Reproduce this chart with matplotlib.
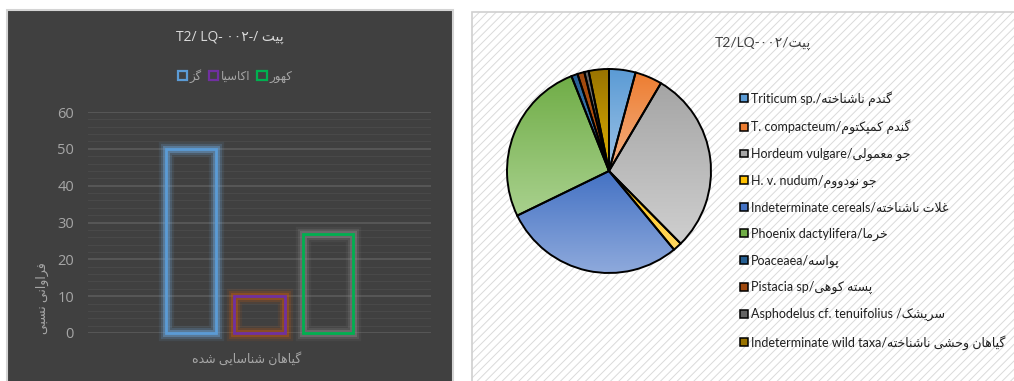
import numpy as np
import matplotlib
matplotlib.use("Agg")
import matplotlib.pyplot as plt
from matplotlib.patches import Rectangle
import matplotlib.patheffects as pe
from matplotlib.colors import LinearSegmentedColormap

# ---------------- data ----------------
bar_series = ["گز", "اکاسیا", "کهور"]
bar_values = [50, 10, 27]
bar_edge_colors = ["#5b9bd5", "#7030a0", "#00b050"]
bar_glow_colors = ["#6fa8dc", "#c55a11", "#8c8c8c"]
y_ticks = [0, 10, 20, 30, 40, 50, 60]

pie_latin = ["Triticum sp.", "T. compacteum", "Hordeum vulgare", "H. v. nudum",
             "Indeterminate cereals", "Phoenix dactylifera", "Poaceaea",
             "Pistacia sp", "Asphodelus cf. tenuifolius ", "Indeterminate wild taxa"]
pie_persian = ["گندم ناشناخته", "گندم کمپکتوم", "جو معمولی", "جو نودووم",
               "غلات ناشناخته", "خرما", "پواسه", "پسته کوهی", "سریشک",
               "گیاهان وحشی ناشناخته"]
pie_values = [4.2, 4.3, 29.1, 1.4, 28.8, 26.2, 1.0, 1.1, 0.7, 3.2]
pie_top_colors = ["#5b9bd5", "#ed7d31", "#a5a5a5", "#ffc000", "#4472c4",
                  "#70ad47", "#255e91", "#9e480e", "#636363", "#997300"]
pie_bottom_colors = ["#9dc3e6", "#f4b183", "#cfcfcf", "#ffd966", "#8faadc",
                     "#a9d18e", "#5b9bd5", "#c55a11", "#8c8c8c", "#e0b000"]

bar_title = "T2/ LQ- ۰۰۲-/ "
pie_title = "T2/LQ-۰۰۲/"
site_word = "پیت"
y_label = "فراوانی نسبی"
x_label = "گیاهان شناسایی شده"

# ------------- minimal Persian shaping (presentation forms, visual order) -------------
_FORMS = {
    "\u0627": (0xFE8D, 0xFE8E, None, None),
    "\u0628": (0xFE8F, 0xFE90, 0xFE91, 0xFE92),
    "\u067E": (0xFB56, 0xFB57, 0xFB58, 0xFB59),
    "\u062A": (0xFE95, 0xFE96, 0xFE97, 0xFE98),
    "\u062C": (0xFE9D, 0xFE9E, 0xFE9F, 0xFEA0),
    "\u062D": (0xFEA1, 0xFEA2, 0xFEA3, 0xFEA4),
    "\u062E": (0xFEA5, 0xFEA6, 0xFEA7, 0xFEA8),
    "\u062F": (0xFEA9, 0xFEAA, None, None),
    "\u0631": (0xFEAD, 0xFEAE, None, None),
    "\u0632": (0xFEAF, 0xFEB0, None, None),
    "\u0633": (0xFEB1, 0xFEB2, 0xFEB3, 0xFEB4),
    "\u0634": (0xFEB5, 0xFEB6, 0xFEB7, 0xFEB8),
    "\u0639": (0xFEC9, 0xFECA, 0xFECB, 0xFECC),
    "\u063A": (0xFECD, 0xFECE, 0xFECF, 0xFED0),
    "\u0641": (0xFED1, 0xFED2, 0xFED3, 0xFED4),
    "\u06A9": (0xFB8E, 0xFB8F, 0xFB90, 0xFB91),
    "\u06AF": (0xFB92, 0xFB93, 0xFB94, 0xFB95),
    "\u0644": (0xFEDD, 0xFEDE, 0xFEDF, 0xFEE0),
    "\u0645": (0xFEE1, 0xFEE2, 0xFEE3, 0xFEE4),
    "\u0646": (0xFEE5, 0xFEE6, 0xFEE7, 0xFEE8),
    "\u0647": (0xFEE9, 0xFEEA, 0xFEEB, 0xFEEC),
    "\u0648": (0xFEED, 0xFEEE, None, None),
    "\u06CC": (0xFBFC, 0xFBFD, 0xFBFE, 0xFBFF),
}


def _dual(ch):
    return ch in _FORMS and _FORMS[ch][2] is not None


def rtl(text):
    text = text.replace("\u0643", "\u06A9").replace("\u064A", "\u06CC")
    out = []
    i, n = 0, len(text)
    while i < n:
        ch = text[i]
        if ch not in _FORMS:
            out.append(ch)
            i += 1
            continue
        joins_prev = i > 0 and _dual(text[i - 1])
        if ch == "\u0644" and i + 1 < n and text[i + 1] == "\u0627":
            out.append(chr(0xFEFC if joins_prev else 0xFEFB))
            i += 2
            continue
        joins_next = _dual(ch) and i + 1 < n and text[i + 1] in _FORMS
        iso, fin, ini, med = _FORMS[ch]
        if joins_prev and joins_next:
            cp = med
        elif joins_prev:
            cp = fin
        elif joins_next:
            cp = ini
        else:
            cp = iso
        out.append(chr(cp))
        i += 1
    return "".join(reversed(out))


# ---------------- figure ----------------
W, H = 1014, 381
plt.rcParams["hatch.linewidth"] = 0.7
fig = plt.figure(figsize=(W / 100, H / 100), dpi=100)
fig.patch.set_facecolor("white")

def fx(px):
    return px / W

def fy(py):
    return (H - py) / H

LEFT_FONT = ["Open Sans", "DejaVu Sans"]
RIGHT_FONT = ["Lato", "DejaVu Sans"]

# dark chart area (left)
fig.patches.append(Rectangle((fx(7), -0.02), fx(453) - fx(7), fy(10) + 0.02,
                             transform=fig.transFigure, facecolor="#404040",
                             edgecolor="#d4d4d4", linewidth=1.5, zorder=-5))

# hatched chart area (right)
fig.patches.append(Rectangle((fx(472), -0.02), 1.0, fy(12) + 0.02,
                             transform=fig.transFigure, facecolor="white",
                             edgecolor="#dadada", hatch="////", linewidth=0, zorder=-5))
fig.patches.append(Rectangle((fx(472), -0.02), 1.0, fy(12) + 0.02,
                             transform=fig.transFigure, facecolor="none",
                             edgecolor="#d0d0d0", linewidth=1.2, zorder=-4))

# ---------------- bar chart ----------------
axb = fig.add_axes([fx(88), fy(333), fx(431) - fx(88), fy(112) - fy(333)])
axb.set_facecolor("none")
axb.set_xlim(0, 1)
axb.set_ylim(0, 60)
axb.set_yticks(y_ticks)
axb.set_yticks(np.arange(0, 61, 2), minor=True)
axb.set_xticks([])
axb.grid(which="major", axis="y", color="#5e5e5e", linewidth=1.1)
axb.grid(which="minor", axis="y", color="#494949", linewidth=0.8)
axb.set_axisbelow(True)
axb.tick_params(axis="y", which="both", length=0, pad=10, labelcolor="#a6a6a6",
                labelsize=10.5)
for lab in axb.get_yticklabels():
    lab.set_family(LEFT_FONT)
for s in axb.spines.values():
    s.set_visible(False)

offsets = np.array([-0.2, 0.0, 0.2])
for off, v, ec, gc in zip(offsets, bar_values, bar_edge_colors, bar_glow_colors):
    bc = axb.bar(0.5 + off, v, width=0.146, facecolor="none", edgecolor=ec,
                 linewidth=2.0, clip_on=False, zorder=3)
    for r in bc:
        r.set_path_effects([
            pe.Stroke(linewidth=11, foreground=gc, alpha=0.10),
            pe.Stroke(linewidth=8, foreground=gc, alpha=0.20),
            pe.Stroke(linewidth=5, foreground=gc, alpha=0.40),
            pe.Normal(),
        ])

fig.text(fx(230), fy(37), bar_title + rtl(site_word), ha="center", va="center",
         color="#d9d9d9", fontsize=10, family=LEFT_FONT)

bar_handles = [Rectangle((0, 0), 1, 1, facecolor="none", edgecolor=c, linewidth=1.6)
               for c in bar_edge_colors]
legb = fig.legend(bar_handles, [rtl(s) for s in bar_series], loc="center",
                  bbox_to_anchor=(fx(235), fy(76)), ncol=3, frameon=False,
                  handlelength=0.8, handleheight=0.8, handletextpad=0.2,
                  columnspacing=0.6, prop={"family": LEFT_FONT, "size": 8.5})
for t in legb.get_texts():
    t.set_color("#a6a6a6")

fig.text(fx(42), fy(298), rtl(y_label), rotation=90, ha="center", va="center",
         color="#a6a6a6", fontsize=9, family=LEFT_FONT)
fig.text(fx(247), fy(359), rtl(x_label), ha="center", va="center",
         color="#a6a6a6", fontsize=9, family=LEFT_FONT)

# ---------------- pie chart ----------------
R_PX = 102
axp = fig.add_axes([fx(609 - R_PX - 2), fy(171 + R_PX + 2),
                    fx(2 * R_PX + 4), (2 * R_PX + 4) / H])
axp.set_facecolor("none")
wedges, _ = axp.pie(pie_values, startangle=90, counterclock=False,
                    colors=pie_top_colors,
                    wedgeprops=dict(edgecolor="black", linewidth=1.4))
for w, c0, c1 in zip(wedges, pie_top_colors, pie_bottom_colors):
    verts = w.get_path().vertices
    x0, x1 = verts[:, 0].min(), verts[:, 0].max()
    y0, y1 = verts[:, 1].min(), verts[:, 1].max()
    cmap = LinearSegmentedColormap.from_list("grad", [c1, c0])
    grad = np.linspace(0, 1, 256).reshape(-1, 1)
    im = axp.imshow(grad, cmap=cmap, origin="lower", extent=(x0, x1, y0, y1),
                    aspect="auto", interpolation="bilinear", zorder=1)
    im.set_clip_path(w)
    w.set_facecolor("none")
    w.set_zorder(2)
lim = (2 * R_PX + 4) / (2 * R_PX)
axp.set_xlim(-lim, lim)
axp.set_ylim(-lim, lim)
axp.set_aspect("equal")
axp.axis("off")

fig.text(fx(763), fy(43), pie_title + rtl(site_word), ha="center", va="center",
         color="#404040", fontsize=10, family=RIGHT_FONT)

pie_labels = [lat + "/" + rtl(per) for lat, per in zip(pie_latin, pie_persian)]
pie_handles = [Rectangle((0, 0), 1, 1, facecolor=c, edgecolor="black", linewidth=1.1)
               for c in pie_top_colors]
legp = fig.legend(pie_handles, pie_labels, loc="upper left",
                  bbox_to_anchor=(fx(740), fy(91)), frameon=False,
                  handlelength=0.6, handleheight=0.6, handletextpad=0.3,
                  labelspacing=1.1, borderpad=0.0, borderaxespad=0.0,
                  prop={"family": RIGHT_FONT, "size": 9})
for t in legp.get_texts():
    t.set_color("#1f1f1f")

fig.savefig("out.png", dpi=100)
